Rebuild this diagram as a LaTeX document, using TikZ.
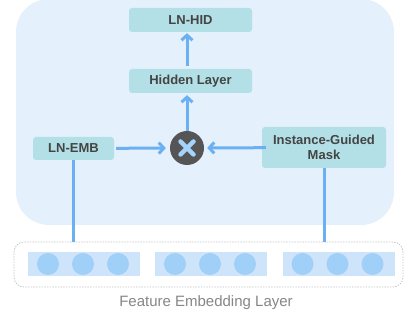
\documentclass[tikz,border=0pt]{standalone}
\usepackage{fontspec}
\setmainfont{Liberation Sans}
\usepackage{tikz}
\usetikzlibrary{arrows.meta,calc}

\definecolor{bgblue}{HTML}{E4F0FC}
\definecolor{boxteal}{HTML}{B3E0E6}
\definecolor{arrblue}{HTML}{6BB0F2}
\definecolor{darkgray}{HTML}{555555}
\definecolor{crossblue}{HTML}{A6D3FA}
\definecolor{embrect}{HTML}{CEE4FA}
\definecolor{embdot}{HTML}{A0CFF8}
\definecolor{textgray}{HTML}{444444}

\begin{document}
\begin{tikzpicture}[x=1pt,y=1pt,>={Straight Barb[length=5pt,width=11pt]},
                    node distance=67pt]
  \tikzstyle{box}=[fill=boxteal,rounded corners=3pt,text=textgray,
                   font=\bfseries\fontsize{13}{15}\selectfont,inner sep=2pt]
  \tikzstyle{arr}=[->,draw=arrblue,line width=3pt]
  \tikzstyle{link}=[draw=arrblue,line width=3pt]

  \useasboundingbox (0,0) rectangle (404,320);
  \fill[bgblue,rounded corners=33pt] (16,95) rectangle (394,321);

  \node[circle,fill=darkgray,minimum size=34pt,inner sep=0pt] (mul) at (187,172) {};
  \draw[crossblue,line width=4.5pt,line cap=round]
    ($(mul)+(-6.5,-6.5)$) -- ($(mul)+(6.5,6.5)$)
    ($(mul)+(-6.5,6.5)$) -- ($(mul)+(6.5,-6.5)$);

  \node[box,minimum width=123pt,minimum height=24pt,xshift=3.5pt] (hid) [above of=mul] {Hidden Layer};
  \node[box,minimum width=123pt,minimum height=24pt,node distance=61pt] (lnhid) [above of=hid] {LN-HID};
  \node[box,minimum width=81pt,minimum height=23pt] (lnemb) at (73.5,171.5) {LN-EMB};
  \node[box,minimum width=124pt,minimum height=41pt,align=center] (mask) at (324,172.5)
       {Instance-Guided\\Mask};

  \node[draw=gray!45,dashed,dash pattern=on 1.5pt off 1.2pt,line width=0.8pt,
        rounded corners=10pt,minimum width=389pt,minimum height=45pt] (feat) at (208.5,55.5) {};

  \foreach \gx/\gname in {84/ga,211/gb,338.5/gc} {
    \node[fill=embrect,minimum width=112pt,minimum height=24pt,inner sep=0pt] (\gname) at (\gx,56) {};
    \foreach \dx in {-35,0,35}
      \fill[embdot] ($(\gname)+(\dx-1,0)$) circle (11pt);
  }

  \node[text=gray!95,font=\fontsize{15}{18}\selectfont] (featlabel) at (206,17) {Feature Embedding Layer};

  \draw[arr,shorten >=2pt] (mul) -- (mul |- hid.south);
  \draw[arr,shorten <=3pt,shorten >=1pt] (mul |- hid.north) -- (mul |- lnhid.south);
  \draw[arr,shorten <=2pt,shorten >=4pt] (lnemb) -- (mul);
  \draw[arr,shorten <=-4pt,shorten >=3pt] (mask) -- (mul);
  \draw[link] (lnemb.south) -- (lnemb.south |- feat.north);
  \draw[link] (mask.south) -- (mask.south |- feat.north);
\end{tikzpicture}
\end{document}
